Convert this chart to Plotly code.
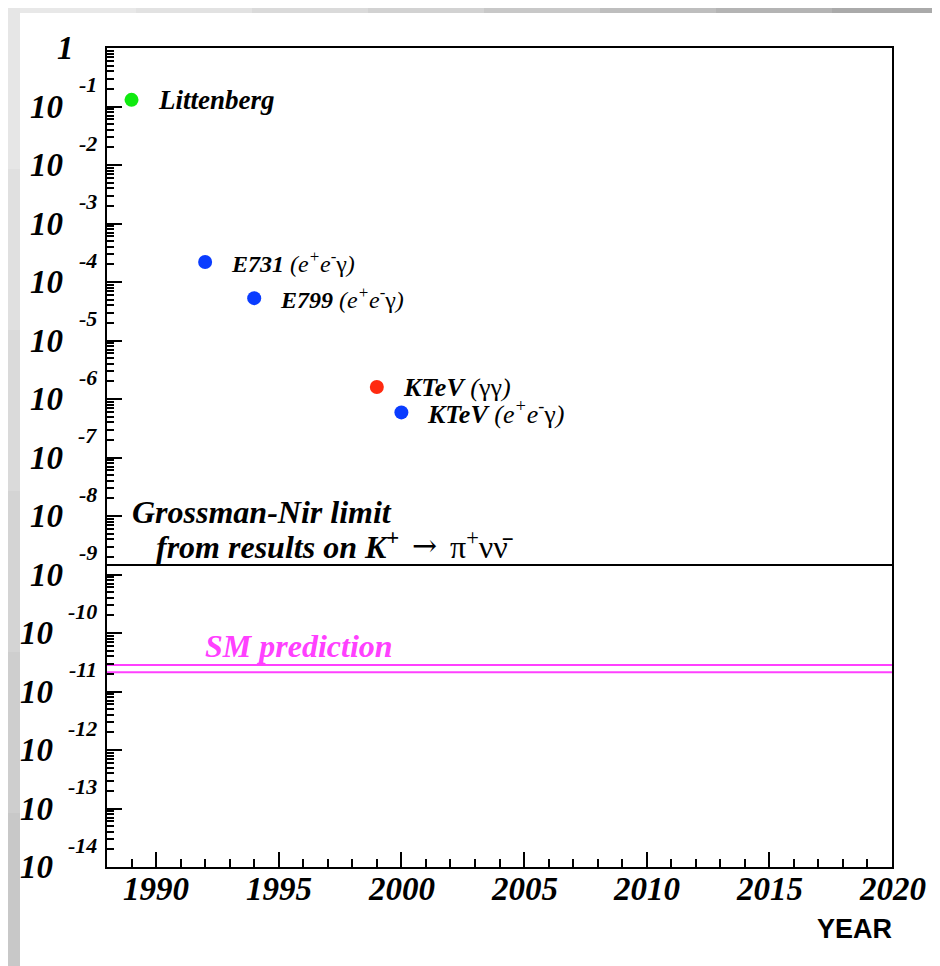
import math
import plotly.graph_objects as go

# ---------------- data ----------------
experiments = ["Littenberg", "E731", "E799", "KTeV (γγ)", "KTeV (ee γ)"]
label_html = [
    "<b>Littenberg</b>",
    "<b>E731</b> (e<sup>+</sup>e<sup>-</sup><span style='font-style:normal'>γ</span>)",
    "<b>E799</b> (e<sup>+</sup>e<sup>-</sup><span style='font-style:normal'>γ</span>)",
    "<b>KTeV</b> (<span style='font-style:normal'>γγ</span>)",
    "<b>KTeV</b> (e<sup>+</sup>e<sup>-</sup><span style='font-style:normal'>γ</span>)",
]
years = [1989, 1992, 1994, 1999, 2000]
limits = [1.3e-1, 2.2e-4, 5.3e-5, 1.6e-6, 5.9e-7]
colors = ["#10ea10", "#0a3cff", "#0a3cff", "#ff2a10", "#0a3cff"]
label_sizes = [27, 24, 24, 26, 26]

grossman_nir_limit = 1.46e-9
sm_band = [2.85e-11, 2.13e-11]

year_ticks = [1990, 1995, 2000, 2005, 2010, 2015, 2020]
year_labels = ["1990", "1995", "2000", "2005", "2010", "2015", "2020"]
decades = list(range(0, -15, -1))  # exponents 0 .. -14
minor_digits = [2, 3, 4, 5, 6, 7, 8, 9]

X_RANGE = [1988, 2020]
Y_RANGE = [-14, 0]

# ---------------- layout helpers (pixel geometry) ----------------
W, H = 940, 966
L, R, T, B = 99, 884, 40, 859


def px2x(px):
    return (px - L) / (R - L)


def py2y(py):
    return (B - py) / (B - T)


SERIF = "Liberation Serif"
fig = go.Figure()

# horizontal limit lines
fig.add_trace(go.Scatter(x=X_RANGE, y=[grossman_nir_limit] * 2, mode="lines",
                         line=dict(color="black", width=2), hoverinfo="skip", showlegend=False))
for v in sm_band:
    fig.add_trace(go.Scatter(x=X_RANGE, y=[v, v], mode="lines",
                             line=dict(color="#ff40ff", width=2), hoverinfo="skip", showlegend=False))

# measurement points
fig.add_trace(go.Scatter(x=years, y=limits, mode="markers",
                         marker=dict(color=colors, size=14, line=dict(width=0)),
                         showlegend=False, cliponaxis=False))

# invisible trace carrying the minor-tick y axis
fig.add_trace(go.Scatter(x=X_RANGE, y=[grossman_nir_limit] * 2, mode="lines", yaxis="y2",
                         line=dict(color="rgba(0,0,0,0)", width=0), hoverinfo="skip",
                         showlegend=False))

annotations = []
# point labels
for yr, val, txt, sz in zip(years, limits, label_html, label_sizes):
    annotations.append(dict(x=yr, y=math.log10(val), xref="x", yref="y", text=txt,
                            showarrow=False, xanchor="left", yanchor="middle", xshift=24,
                            font=dict(family=SERIF, size=sz, color="black", style="italic")))

# Grossman-Nir text
annotations.append(dict(x=px2x(122), y=-7.93, xref="paper", yref="y",
                        text="<b>Grossman-Nir limit</b>", showarrow=False,
                        xanchor="left", yanchor="middle",
                        font=dict(family=SERIF, size=32, color="black", style="italic")))
annotations.append(dict(x=px2x(146), y=-8.49, xref="paper", yref="y",
                        text="<b>from results on K<sup>+</sup></b>",
                        showarrow=False, xanchor="left", yanchor="middle",
                        font=dict(family=SERIF, size=32, color="black", style="italic")))
annotations.append(dict(x=px2x(402), y=-8.50, xref="paper", yref="y",
                        text="→", showarrow=False, xanchor="left", yanchor="middle",
                        font=dict(family="DejaVu Serif", size=30, color="black")))
annotations.append(dict(x=px2x(440), y=-8.49, xref="paper", yref="y",
                        text="π<sup>+</sup>νν̄", showarrow=False, xanchor="left", yanchor="middle",
                        font=dict(family=SERIF, size=32, color="black")))
# SM prediction text
annotations.append(dict(x=px2x(195), y=-10.22, xref="paper", yref="y",
                        text="<b>SM prediction</b>", showarrow=False,
                        xanchor="left", yanchor="middle",
                        font=dict(family=SERIF, size=32, color="#ff40ff", style="italic")))

# y tick labels (10 with exponent)
for n in decades:
    if n == 0:
        annotations.append(dict(x=0, y=0, xref="paper", yref="y", text="<b>1</b>",
                                showarrow=False, xanchor="right", yanchor="middle", xshift=-31,
                                font=dict(family=SERIF, size=33, color="black", style="italic")))
        continue
    two = abs(n) >= 10
    annotations.append(dict(x=0, y=n, xref="paper", yref="y", text="<b>10</b>",
                            showarrow=False, xanchor="right", yanchor="middle",
                            xshift=-52 if two else -42,
                            font=dict(family=SERIF, size=33, color="black", style="italic")))
    annotations.append(dict(x=0, y=n, xref="paper", yref="y", text="<b>%d</b>" % n,
                            showarrow=False, xanchor="right", yanchor="middle",
                            xshift=-8, yshift=22,
                            font=dict(family=SERIF, size=22, color="black", style="italic")))

# x tick labels
for yv, lab in zip(year_ticks, year_labels):
    annotations.append(dict(x=yv, y=py2y(881), xref="x", yref="paper", text="<b>%s</b>" % lab,
                            showarrow=False, xanchor="center", yanchor="middle",
                            font=dict(family=SERIF, size=33, color="black", style="italic")))

# YEAR title
annotations.append(dict(x=1, y=py2y(921), xref="paper", yref="paper", text="<b>YEAR</b>",
                        showarrow=False, xanchor="right", yanchor="middle", xshift=2,
                        font=dict(family="Liberation Sans", size=27, color="black")))

# frame decoration (grey border of the picture)
shapes = []
left_cols = ["#e6e6e6", "#e0e0e0", "#dadada", "#d4d4d4", "#cecece", "#c8c8c8"]
seg_h = H / len(left_cols)
for i, c in enumerate(left_cols):
    shapes.append(dict(type="rect", xref="paper", yref="paper", layer="below",
                       x0=px2x(0), x1=px2x(12), y0=py2y((i + 1) * seg_h + 1), y1=py2y(i * seg_h),
                       fillcolor=c, line=dict(width=0)))
top_cols = ["#e8e8e8", "#e2e2e2", "#dadada", "#d2d2d2", "#c8c8c8", "#bebebe", "#b4b4b4", "#aaaaaa"]
seg = (W - 12) / len(top_cols)
for i, c in enumerate(top_cols):
    shapes.append(dict(type="rect", xref="paper", yref="paper", layer="below",
                       x0=px2x(12 + i * seg), x1=px2x(12 + (i + 1) * seg + 1),
                       y0=py2y(5), y1=py2y(0), fillcolor=c, line=dict(width=0)))
shapes.append(dict(type="rect", xref="paper", yref="paper", layer="below",
                   x0=px2x(935), x1=px2x(W), y0=py2y(H), y1=py2y(0),
                   fillcolor="#a8a8a8", line=dict(width=0)))

y_minor_vals = [k * 10.0 ** n for n in range(-14, 0) for k in minor_digits]

fig.update_layout(
    width=W, height=H,
    margin=dict(l=L, r=W - R, t=T, b=H - B, pad=0),
    paper_bgcolor="white", plot_bgcolor="white",
    showlegend=False,
    annotations=annotations,
    shapes=shapes,
    xaxis=dict(range=X_RANGE, tickvals=year_ticks, showticklabels=False,
               ticks="inside", ticklen=15, tickwidth=2, tickcolor="black",
               minor=dict(ticks="inside", dtick=1, ticklen=8, tickwidth=2, tickcolor="black"),
               showline=True, linecolor="black", linewidth=2, mirror=True,
               showgrid=False, zeroline=False),
    yaxis=dict(type="log", range=Y_RANGE, tickmode="array",
               tickvals=[10.0 ** n for n in decades],
               ticks="inside", ticklen=15, tickwidth=2, tickcolor="black",
               showticklabels=False,
               showline=True, linecolor="black", linewidth=2, mirror=True,
               showgrid=False, zeroline=False),
    yaxis2=dict(type="log", range=Y_RANGE, overlaying="y", side="left", anchor="x",
                tickmode="array", tickvals=y_minor_vals,
                ticks="inside", ticklen=7, tickwidth=2, tickcolor="black",
                showticklabels=False, showline=False, showgrid=False, zeroline=False),
)

fig.write_html("out.html")
